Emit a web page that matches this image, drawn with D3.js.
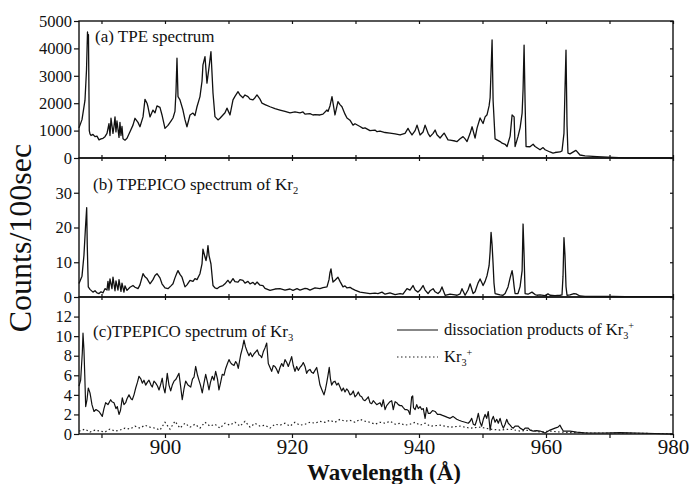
<!DOCTYPE html>
<html><head><meta charset="utf-8">
<script src="https://cdn.jsdelivr.net/npm/d3@7"></script>
<style>body{margin:0;background:#fff} svg text{font-family:"Liberation Serif","DejaVu Serif",serif;}</style>
</head><body>
<svg id="c" width="692" height="484"></svg>
<script>
// ---------- data (wavelength in Å, counts per 100 s) ----------
const tpe = [[886.46,1100],[886.93,1400],[887.40,2100],[887.64,3200],[887.80,4600],[887.87,4200],[887.95,4500],[888.08,1000],[888.19,880],[888.35,820],[888.66,860],[888.98,780],[889.29,800],[889.61,660],[889.92,700],[890.24,720],[890.55,780],[890.87,900],[891.18,1250],[891.34,820],[891.50,1450],[891.81,900],[891.97,1150],[892.13,1500],[892.28,950],[892.44,1350],[892.76,750],[892.91,1300],[893.07,820],[893.23,1150],[893.39,700],[893.70,650],[894.02,720],[894.49,960],[894.96,1200],[895.28,1450],[895.75,1300],[896.06,1140],[896.54,1500],[896.85,2140],[897.17,2000],[897.32,1870],[897.64,1500],[898.11,1750],[898.43,1650],[898.74,1900],[899.21,1850],[899.53,1570],[900.00,1080],[900.47,1190],[900.94,1350],[901.26,1460],[901.57,1700],[901.73,2400],[901.89,3640],[902.05,2240],[902.36,2120],[902.83,1750],[903.15,1400],[903.46,1140],[903.94,1570],[904.41,1640],[904.72,1550],[905.04,1870],[905.51,2240],[905.83,2800],[905.98,3400],[906.30,3700],[906.61,2730],[906.93,3300],[907.24,3880],[907.56,2370],[907.87,1510],[908.35,1390],[908.66,1450],[909.13,1570],[909.45,1650],[909.76,1820],[910.24,1570],[910.71,2120],[911.02,2250],[911.50,2420],[911.81,2300],[912.28,2200],[912.60,2300],[913.07,2240],[913.39,2150],[913.86,2120],[914.17,2200],[914.49,2300],[914.96,2150],[915.28,2000],[915.75,1950],[916.54,1870],[917.32,1800],[918.11,1750],[918.90,1700],[919.69,1650],[920.47,1680],[921.26,1650],[921.73,1680],[922.05,1600],[922.83,1620],[923.31,1570],[923.62,1580],[924.41,1570],[924.88,1600],[925.51,1750],[925.67,1700],[925.98,1900],[926.30,2240],[926.77,1570],[927.24,2060],[927.56,1950],[927.87,1870],[928.35,1600],[928.66,1460],[929.13,1380],[929.61,1200],[929.92,1250],[930.71,1150],[931.18,1080],[931.50,1100],[932.28,1000],[933.07,1020],[933.39,960],[933.87,980],[934.66,930],[935.43,910],[936.24,880],[937.02,840],[937.80,900],[938.27,1080],[938.58,950],[938.90,840],[939.39,1000],[939.69,1200],[940.17,840],[940.64,950],[940.96,1200],[941.43,900],[941.75,780],[942.22,900],[942.54,1020],[942.83,850],[943.32,730],[943.95,910],[944.11,850],[944.57,660],[944.90,650],[945.68,620],[946.00,600],[946.47,700],[946.94,780],[947.26,700],[947.57,600],[948.05,900],[948.36,1140],[948.52,1000],[948.83,730],[949.15,1100],[949.62,1460],[950.09,1260],[950.41,1500],[950.72,1580],[951.04,1900],[951.20,2200],[951.35,3200],[951.51,4310],[951.67,2100],[951.98,700],[952.77,600],[953.09,540],[953.56,500],[953.87,420],[954.35,800],[954.66,1570],[954.98,1500],[955.13,420],[955.59,780],[955.92,1100],[956.24,1640],[956.39,2500],[956.55,4120],[956.71,2000],[956.86,420],[957.48,410],[957.97,500],[958.28,420],[959.06,300],[959.54,380],[959.86,300],[960.63,220],[961.10,180],[961.42,200],[962.20,220],[962.52,260],[962.83,900],[962.99,2500],[963.15,3940],[963.31,1200],[963.46,180],[963.78,150],[964.57,260],[964.72,280],[965.35,110],[966.14,80],[968.03,50],[970.55,20],[972.44,5],[980.00,0]];

const kr2 = [[886.46,3.9],[886.93,6],[887.24,12],[887.48,20],[887.67,25.7],[887.76,15],[887.92,2.9],[888.19,2.2],[888.66,1.4],[888.98,1.8],[889.29,1.2],[889.61,1.0],[889.92,1.5],[890.24,1.2],[890.55,2.4],[890.87,2.0],[891.02,4.5],[891.18,2.0],[891.34,5.2],[891.65,2.4],[891.81,5.7],[892.13,1.8],[892.28,4.6],[892.60,2.0],[892.76,5.0],[893.07,1.6],[893.23,4.0],[893.54,1.4],[893.70,3.2],[894.02,1.9],[894.49,2.8],[894.96,3.3],[895.28,2.8],[895.75,2.4],[896.06,3.5],[896.54,6.7],[896.85,5.8],[897.17,5.3],[897.64,3.8],[898.11,5.0],[898.43,6.2],[898.74,6.7],[899.21,5.5],[899.53,3.8],[900.00,2.6],[900.47,2.4],[900.94,3.2],[901.26,3.8],[901.57,5.5],[901.89,7.0],[902.05,7.6],[902.36,6.5],[902.68,5.7],[903.15,2.9],[903.46,3.5],[903.94,4.8],[904.41,4.5],[904.72,5.3],[905.04,5.0],[905.51,6.7],[905.83,9.5],[905.98,13.8],[906.30,11.5],[906.46,10.5],[906.61,12],[906.77,14.8],[906.93,12],[907.24,9.5],[907.56,3.3],[907.87,2.6],[908.19,2.4],[908.66,3.0],[909.13,3.3],[909.45,3.8],[909.76,4.5],[909.92,4.8],[910.24,4.0],[910.71,5.3],[911.02,4.4],[911.50,4.3],[911.81,5.0],[912.28,4.8],[912.60,4.0],[913.07,4.5],[913.39,3.8],[913.86,4.2],[914.17,3.6],[914.49,4.3],[914.96,3.4],[915.43,3.3],[915.75,2.5],[916.54,1.9],[917.32,2.3],[918.11,2.4],[918.90,2.0],[919.69,2.3],[920.16,1.9],[920.79,2.4],[921.26,2.0],[922.05,2.5],[922.36,2.4],[922.83,2.0],[923.62,2.6],[924.41,2.4],[924.88,2.7],[925.51,2.9],[925.83,5],[925.98,7.0],[926.14,8.1],[926.30,6],[926.46,4.3],[926.77,4.8],[927.24,5.7],[927.56,4.5],[928.03,2.9],[928.35,3.2],[928.66,2.6],[929.13,2.8],[929.45,2.4],[929.92,2.0],[930.71,1.4],[931.50,1.2],[932.28,1.0],[933.07,1.1],[933.54,1.0],[934.17,1.4],[934.66,0.8],[935.43,1.2],[936.24,0.7],[937.02,1.0],[937.48,0.8],[938.11,2.4],[938.58,2.0],[939.06,3.3],[939.39,2.0],[939.84,1.4],[940.17,2.0],[940.64,3.3],[940.96,2.0],[941.43,1.0],[941.75,1.8],[942.22,2.4],[942.54,1.5],[942.99,1.0],[943.32,1.6],[943.62,2.9],[944.11,0.5],[944.90,0.8],[945.68,0.6],[946.00,0.5],[946.47,0.9],[946.77,2.4],[947.26,0.5],[947.72,2.0],[948.05,3.8],[948.52,1.0],[948.83,1.5],[949.29,4.0],[949.62,5.2],[949.92,4.0],[950.09,3.3],[950.41,4.5],[950.72,6.2],[951.04,9],[951.20,13],[951.35,18.6],[951.51,15],[951.67,9.5],[951.81,4],[951.98,1.0],[952.77,0.6],[953.23,0.5],[953.56,1.0],[954.02,2.9],[954.35,5.5],[954.66,7.6],[954.80,6],[954.98,3],[955.13,1.0],[955.59,1.0],[955.92,3.0],[956.24,7.6],[956.39,21],[956.55,12],[956.71,1.0],[957.17,0.8],[957.79,1.4],[958.28,0.7],[958.58,0.5],[959.06,0.6],[959.86,0.4],[960.31,0.9],[960.63,0.5],[961.42,0.4],[962.20,0.5],[962.52,0.6],[962.68,6],[962.83,17.1],[962.99,12],[963.15,3],[963.31,0.5],[963.78,0.6],[964.41,1.0],[964.72,0.9],[965.35,0.3],[966.14,0.2],[968.03,0.15],[970.55,0.2],[972.44,0.1],[980.00,0.1]];

const kr3Diss = [[886.46,4.9],[886.72,5.5],[886.98,8.3],[887.09,10.3],[887.24,8.6],[887.37,6],[887.51,2.8],[887.72,3.5],[887.92,4.7],[888.19,4.2],[888.30,3.8],[888.50,3.0],[888.82,2.3],[889.13,2.5],[889.61,2.3],[889.92,2.0],[890.13,1.8],[890.39,2.6],[890.66,3.2],[891.02,3.0],[891.45,3.5],[891.65,3.3],[891.97,3.2],[892.28,2.6],[892.49,2.8],[892.76,2.0],[892.99,2.4],[893.28,3.7],[893.54,3.0],[893.81,3.2],[894.02,3.6],[894.33,4.0],[894.65,3.6],[894.85,3.5],[895.12,4.0],[895.39,4.7],[895.67,5.3],[895.91,5.9],[896.22,5.6],[896.43,5.2],[896.69,5.5],[896.96,5.0],[897.24,5.3],[897.48,5.5],[897.80,5.0],[898.00,4.8],[898.27,5.4],[898.54,5.2],[898.82,4.9],[899.06,4.5],[899.29,5.0],[899.57,5.7],[899.76,4.8],[900.00,4.2],[900.16,5.0],[900.36,6.2],[900.63,5.0],[900.90,4.4],[901.15,5.0],[901.42,5.4],[901.73,5.6],[902.20,6.2],[902.44,5.0],[902.72,3.5],[902.99,4.6],[903.26,5.4],[903.62,5.0],[904.05,4.8],[904.33,5.6],[904.57,5.8],[904.83,6.9],[905.12,6.0],[905.35,5.5],[905.59,5.0],[905.87,4.2],[906.14,5.2],[906.41,6.1],[906.69,5.3],[906.93,4.5],[907.17,5.3],[907.45,5.9],[907.72,5.5],[907.98,6.4],[908.27,5.6],[908.50,4.5],[908.74,5.2],[909.02,6.1],[909.29,6.0],[909.56,6.7],[909.84,7.2],[910.08,7.6],[910.31,7.3],[910.60,7.1],[910.87,7.0],[911.13,7.4],[911.34,7.2],[911.54,6.7],[911.92,8.1],[912.20,8.8],[912.44,9.6],[912.68,8.9],[912.96,8.4],[913.23,8.0],[913.46,8.3],[913.75,7.9],[914.02,8.2],[914.28,8.4],[914.54,8.6],[914.80,8.1],[915.04,8.0],[915.23,7.8],[915.48,8.4],[915.75,8.8],[916.02,9.3],[916.27,7.2],[916.54,6.8],[916.80,6.4],[917.06,7.0],[917.32,6.9],[917.59,6.6],[917.84,6.2],[918.11,6.8],[918.38,7.2],[918.63,6.9],[918.90,7.6],[919.17,7.3],[919.42,6.9],[919.69,7.4],[919.95,7.9],[920.20,7.0],[920.47,6.4],[920.74,6.9],[920.99,6.5],[921.26,6.8],[921.53,7.0],[921.78,7.3],[922.05,6.9],[922.31,6.2],[922.57,6.5],[922.83,6.6],[923.10,6.3],[923.35,6.2],[923.62,6.5],[923.89,6.8],[924.14,6.0],[924.41,5.0],[924.72,4.5],[925.04,4.0],[925.28,4.6],[925.46,5.2],[925.67,6.0],[925.87,6.8],[926.06,5.6],[926.25,5.0],[926.50,5.3],[926.77,5.4],[927.04,5.0],[927.29,5.2],[927.56,4.8],[927.83,4.4],[928.08,4.7],[928.35,4.3],[928.61,4.6],[928.87,4.4],[929.13,4.0],[929.40,4.1],[929.65,4.4],[929.92,3.8],[930.19,4.0],[930.44,4.3],[930.71,3.9],[930.98,3.8],[931.23,3.5],[931.50,3.4],[931.76,3.6],[932.02,3.8],[932.28,3.2],[932.55,3.1],[932.80,3.4],[933.07,3.2],[933.34,3.0],[933.59,3.1],[933.87,3.2],[934.13,2.8],[934.38,3.5],[934.66,2.5],[934.91,2.9],[935.17,3.1],[935.43,3.3],[935.70,3.4],[935.95,2.5],[936.24,3.3],[936.49,3.2],[936.74,3.0],[937.02,2.9],[937.28,2.9],[937.53,2.7],[937.80,2.5],[938.06,2.5],[938.32,2.4],[938.58,2.0],[938.85,3.8],[939.01,3.9],[939.13,2.7],[939.39,2.5],[939.64,3.0],[939.89,2.6],[940.17,2.8],[940.43,2.5],[940.68,2.6],[940.96,1.6],[941.21,2.7],[941.46,2.1],[941.75,2.1],[942.13,2.4],[942.54,2.3],[942.91,2.0],[943.32,2.0],[943.70,1.9],[944.11,1.8],[944.49,1.7],[944.90,1.6],[945.35,1.8],[945.94,1.5],[946.30,1.4],[946.72,1.3],[947.26,1.2],[947.76,1.1],[948.05,1.3],[948.30,1.6],[948.55,1.0],[948.83,0.9],[949.09,1.4],[949.34,2.1],[949.62,1.2],[949.87,0.8],[950.13,1.5],[950.41,2.0],[950.66,1.6],[950.91,2.3],[951.20,0.4],[951.45,1.4],[951.70,1.8],[951.98,1.2],[952.24,1.5],[952.49,1.1],[952.77,1.6],[953.02,1.0],[953.28,0.6],[953.56,1.0],[953.81,1.5],[954.06,1.1],[954.35,0.9],[954.60,0.7],[954.85,0.6],[955.13,0.8],[955.64,0.8],[955.92,0.6],[956.43,0.4],[956.71,0.6],[957.21,0.6],[957.48,0.4],[958.00,0.3],[958.54,0.35],[959.06,0.3],[959.86,0.1],[960.63,0.4],[961.42,0.6],[961.89,0.7],[962.20,0.9],[962.44,0.6],[962.72,0.3],[963.78,0.3],[964.83,0.2],[966.41,0.1],[968.98,0.1],[971.65,0.15],[974.33,0.1],[977.17,0.05],[979.05,0.0],[980.00,0]];

const kr3Ion = [[886.46,0.3],[887.40,0.5],[888.19,0.2],[888.98,0.4],[889.76,0.3],[890.55,0.2],[891.34,0.5],[892.13,0.3],[892.91,0.4],[893.70,0.6],[894.49,0.5],[895.28,0.8],[896.06,0.6],[896.85,0.9],[897.64,0.7],[898.43,0.6],[899.21,0.4],[900.00,1.2],[900.79,0.5],[901.57,1.3],[902.36,0.6],[903.15,1.1],[903.94,0.7],[904.72,1.0],[905.51,0.6],[906.30,1.2],[907.09,0.8],[907.87,1.0],[908.66,0.6],[909.45,1.1],[910.24,0.9],[911.02,1.2],[911.81,0.8],[912.60,1.3],[913.39,0.7],[914.17,1.1],[914.96,0.8],[915.75,0.9],[916.54,0.6],[917.32,1.0],[918.11,0.9],[918.90,1.1],[919.69,0.8],[920.47,1.2],[921.26,0.9],[922.05,1.0],[922.83,1.2],[923.62,1.1],[924.41,1.3],[925.20,1.2],[925.98,1.4],[926.77,1.2],[927.56,1.5],[928.35,1.3],[929.13,1.4],[929.92,1.2],[930.71,1.5],[931.50,1.3],[932.28,1.2],[933.07,1.0],[933.87,1.2],[934.66,1.1],[935.43,1.3],[936.24,1.0],[937.02,1.1],[937.80,0.9],[938.58,1.0],[939.39,1.2],[940.17,0.9],[940.96,1.1],[941.75,0.8],[943.32,0.9],[944.90,0.7],[946.47,0.8],[948.05,0.6],[949.62,0.7],[951.20,0.5],[952.77,0.4],[954.35,0.5],[955.92,0.3],[957.48,0.4],[959.06,0.2],[960.63,0.3],[962.20,0.2],[963.78,0.15],[966.93,0.1],[971.65,0.1],[976.38,0.05],[980.00,0.05]];

const xTicks = [890,900,910,920,930,940,950,960,970,980];
const xTickLabels = [900,920,940,960,980];
const yTicksA = [0,1000,2000,3000,4000,5000];
const yTicksB = [0,10,20,30];
const yTicksC = [0,2,4,6,8,10,12];
const xDomain = [886.46,980];

// ---------- drawing ----------
const FONT = '"Liberation Serif","DejaVu Serif",serif';
const svg = d3.select('#c');
const x = d3.scaleLinear().domain(xDomain).range([79,673]);

const panels = [
  {y: d3.scaleLinear().domain([0,5000]).range([158,21]), ticks: yTicksA},
  {y: d3.scaleLinear().domain([0,40]).range([297,158]), ticks: yTicksB},
  {y: d3.scaleLinear().domain([0,14]).range([434,297]), ticks: yTicksC}
];

function styleAxis(g){
  g.select('.domain').remove();
  g.selectAll('line').attr('stroke','#111').attr('stroke-width',1.2);
}

panels.forEach((p,i)=>{
  const [y0,y1] = p.y.range(); // bottom, top
  svg.append('g').attr('transform',`translate(79,0)`)
    .call(d3.axisLeft(p.y).tickValues(p.ticks).tickSize(5).tickPadding(2).tickFormat(d3.format('d')))
    .call(styleAxis)
    .call(g=>g.selectAll('text').style('font-family',FONT).attr('font-size',16.5).attr('fill','#111'));
  svg.append('g').attr('transform',`translate(673,0)`)
    .call(d3.axisLeft(p.y).tickValues(p.ticks).tickSize(3).tickFormat(''))
    .call(g=>{g.selectAll('line').attr('x2',-3);})
    .call(styleAxis);
  svg.append('g').attr('transform',`translate(0,${y1})`)
    .call(d3.axisBottom(x).tickValues(xTicks).tickSize(3).tickFormat(''))
    .call(styleAxis);
  if(i<2){
    svg.append('g').attr('transform',`translate(0,${y0})`)
      .call(d3.axisTop(x).tickValues(xTicks).tickSize(3).tickFormat(''))
      .call(styleAxis);
  } else {
    svg.append('g').attr('transform',`translate(0,${y0})`)
      .call(d3.axisBottom(x).tickValues(xTicks).tickSize(4).tickPadding(1)
        .tickFormat(d=> xTickLabels.includes(d) ? d : ''))
      .call(styleAxis)
      .call(g=>g.selectAll('text').style('font-family',FONT).attr('font-size',21).attr('fill','#111'));
  }
  svg.append('rect').attr('x',79).attr('y',y1).attr('width',594).attr('height',y0-y1)
    .attr('fill','none').attr('stroke','#111').attr('stroke-width',1.4);
});

const line = (ys)=> d3.line().x(d=>x(d[0])).y(d=>ys(d[1]));

svg.append('path').datum(tpe).attr('d',line(panels[0].y))
  .attr('fill','none').attr('stroke','#111').attr('stroke-width',1.3).attr('stroke-linejoin','round');
svg.append('path').datum(kr2).attr('d',line(panels[1].y))
  .attr('fill','none').attr('stroke','#111').attr('stroke-width',1.3).attr('stroke-linejoin','round');
svg.append('path').datum(kr3Ion).attr('d',line(panels[2].y))
  .attr('fill','none').attr('stroke','#222').attr('stroke-width',1.2).attr('stroke-dasharray','1.5,2.5');
svg.append('path').datum(kr3Diss).attr('d',line(panels[2].y))
  .attr('fill','none').attr('stroke','#111').attr('stroke-width',1.2).attr('stroke-linejoin','round');

function label(xp, yp, parts, size){
  const t = svg.append('text').attr('x',xp).attr('y',yp).style('font-family',FONT)
    .attr('font-size',size).attr('fill','#111');
  parts.forEach(pt=>{
    const s = t.append('tspan').text(pt.t);
    if(pt.sub){ s.attr('font-size',size*0.62).attr('dy',4); }
    if(pt.sup){ s.attr('font-size',size*0.62).attr('dy',pt.dy||-9); }
  });
  return t;
}
label(95,42,[{t:'(a) TPE spectrum'}],17);
label(93,190,[{t:'(b) TPEPICO spectrum of Kr'},{t:'2',sub:true}],17);
label(93,337,[{t:'(c)TPEPICO spectrum of Kr'},{t:'3',sub:true}],17);

svg.append('line').attr('x1',397).attr('x2',438).attr('y1',330).attr('y2',330)
  .attr('stroke','#111').attr('stroke-width',1.1);
label(444,335,[{t:'dissociation products of Kr'},{t:'3',sub:true},{t:'+',sup:true,dy:-10}],16.5);
svg.append('line').attr('x1',397).attr('x2',438).attr('y1',357).attr('y2',357)
  .attr('stroke','#222').attr('stroke-width',1.2).attr('stroke-dasharray','1.5,2.5');
label(444,362,[{t:'Kr'},{t:'3',sub:true},{t:'+',sup:true,dy:-10}],16.5);

svg.append('text').attr('transform','translate(31,238) rotate(-90)')
  .attr('text-anchor','middle').style('font-family',FONT).attr('font-size',32).attr('fill','#111')
  .text('Counts/100sec');
svg.append('text').attr('x',384).attr('y',480).attr('text-anchor','middle')
  .style('font-family',FONT).attr('font-size',23).attr('font-weight','bold').attr('fill','#111')
  .text('Wavelength (Å)');
</script>
</body></html>
